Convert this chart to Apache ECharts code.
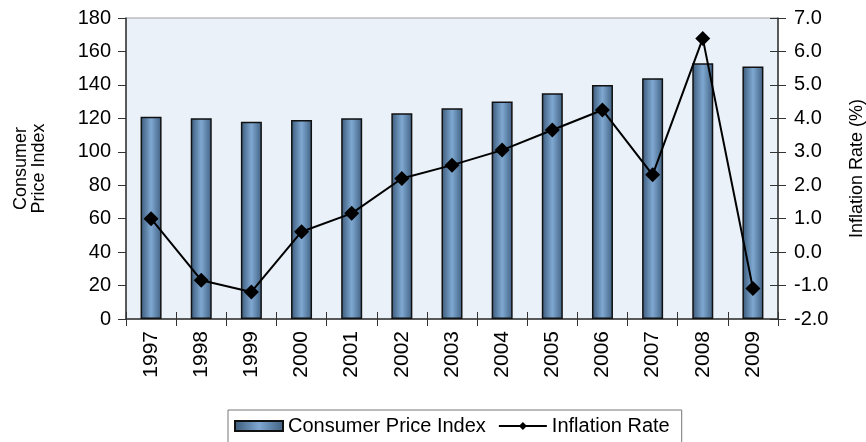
<!DOCTYPE html>
<html><head><meta charset="utf-8">
<script src="https://cdn.jsdelivr.net/npm/echarts@6/dist/echarts.min.js"></script>
<style>html,body{margin:0;padding:0;background:#fff}#c{width:866px;height:442px}</style>
</head><body><div id="c"></div>
<script>
const years = ['1997','1998','1999','2000','2001','2002','2003','2004','2005','2006','2007','2008','2009'];
const cpi = [121,120,118,119,120,123,126,130,135,140,144,153,151];
const inflation = [1.0,-0.84,-1.19,0.61,1.16,2.2,2.6,3.05,3.65,4.25,2.31,6.39,-1.09];
const leftTicks = [0,180,20];
const rightTicks = [-2,7,1];

const font = 'Liberation Sans, Arial, sans-serif';
const chart = echarts.init(document.getElementById('c'));
const barGrad = new echarts.graphic.LinearGradient(0,0,1,0,[
  {offset:0,color:'#3a5878'},{offset:0.5,color:'#7fa8d1'},{offset:1,color:'#3f5f80'}]);
chart.setOption({
  animation:false,
  textStyle:{fontFamily:font},
  grid:{left:126,right:88,top:18,bottom:123,outerBoundsMode:'none',containLabel:false,
        show:true,backgroundColor:'#eaf1f9',borderColor:'#a0a0a0',borderWidth:1},
  legend:{
    left:228, top:410, padding:[6,12,8,6], itemGap:12,
    borderColor:'#777', borderWidth:1, backgroundColor:'#fff',
    itemWidth:48, itemHeight:10,
    textStyle:{fontSize:20,color:'#000',fontFamily:font},
    data:[{name:'Consumer Price Index',icon:'rect'},{name:'Inflation Rate'}]
  },
  xAxis:[
    {type:'category',data:years,boundaryGap:true,
     axisLine:{onZero:false,lineStyle:{color:'#333',width:1.5}},
     axisTick:{show:true,length:7,lineStyle:{color:'#333'}},
     axisLabel:{rotate:90,fontSize:21,color:'#000',margin:12,fontFamily:font}},
    {type:'category',data:years,boundaryGap:true,position:'bottom',
     axisLine:{show:false,onZero:false},
     axisTick:{show:true,inside:true,length:7,lineStyle:{color:'#333'}},
     axisLabel:{show:false}}
  ],
  yAxis:[
    {type:'value',min:leftTicks[0],max:leftTicks[1],interval:leftTicks[2],
     name:'Consumer\nPrice Index',nameLocation:'middle',nameGap:78,nameRotate:90,
     nameTextStyle:{fontSize:18,color:'#000',lineHeight:18,fontFamily:font},
     axisLine:{show:true,onZero:false,lineStyle:{color:'#333',width:1.5}},
     axisTick:{show:true,length:8,lineStyle:{color:'#333'}},
     splitLine:{show:false},
     axisLabel:{fontSize:20,color:'#000',margin:15,fontFamily:font}},
    {type:'value',min:rightTicks[0],max:rightTicks[1],interval:rightTicks[2],position:'right',
     name:'Inflation Rate (%)',nameLocation:'middle',nameGap:70,nameRotate:90,
     nameTextStyle:{fontSize:18,color:'#000',fontFamily:font},
     axisLine:{show:true,onZero:false,lineStyle:{color:'#333',width:1.5}},
     axisTick:{show:true,length:8,lineStyle:{color:'#333'}},
     splitLine:{show:false},
     axisLabel:{fontSize:20,color:'#000',margin:16,fontFamily:font,formatter:v=>v.toFixed(1)}},
    {type:'value',min:rightTicks[0],max:rightTicks[1],interval:rightTicks[2],position:'right',
     axisLine:{show:false,onZero:false},
     axisTick:{show:true,inside:true,length:8,lineStyle:{color:'#333'}},
     splitLine:{show:false},axisLabel:{show:false}}
  ],
  series:[
    {name:'Consumer Price Index',type:'bar',data:cpi,barWidth:21,yAxisIndex:0,xAxisIndex:0,
     itemStyle:{color:barGrad,borderColor:'#111',borderWidth:1.5}},
    {name:'Inflation Rate',type:'line',data:inflation,yAxisIndex:1,xAxisIndex:0,
     symbol:'diamond',symbolSize:15,
     lineStyle:{color:'#000',width:2},itemStyle:{color:'#000'}}
  ]
});
</script></body></html>
